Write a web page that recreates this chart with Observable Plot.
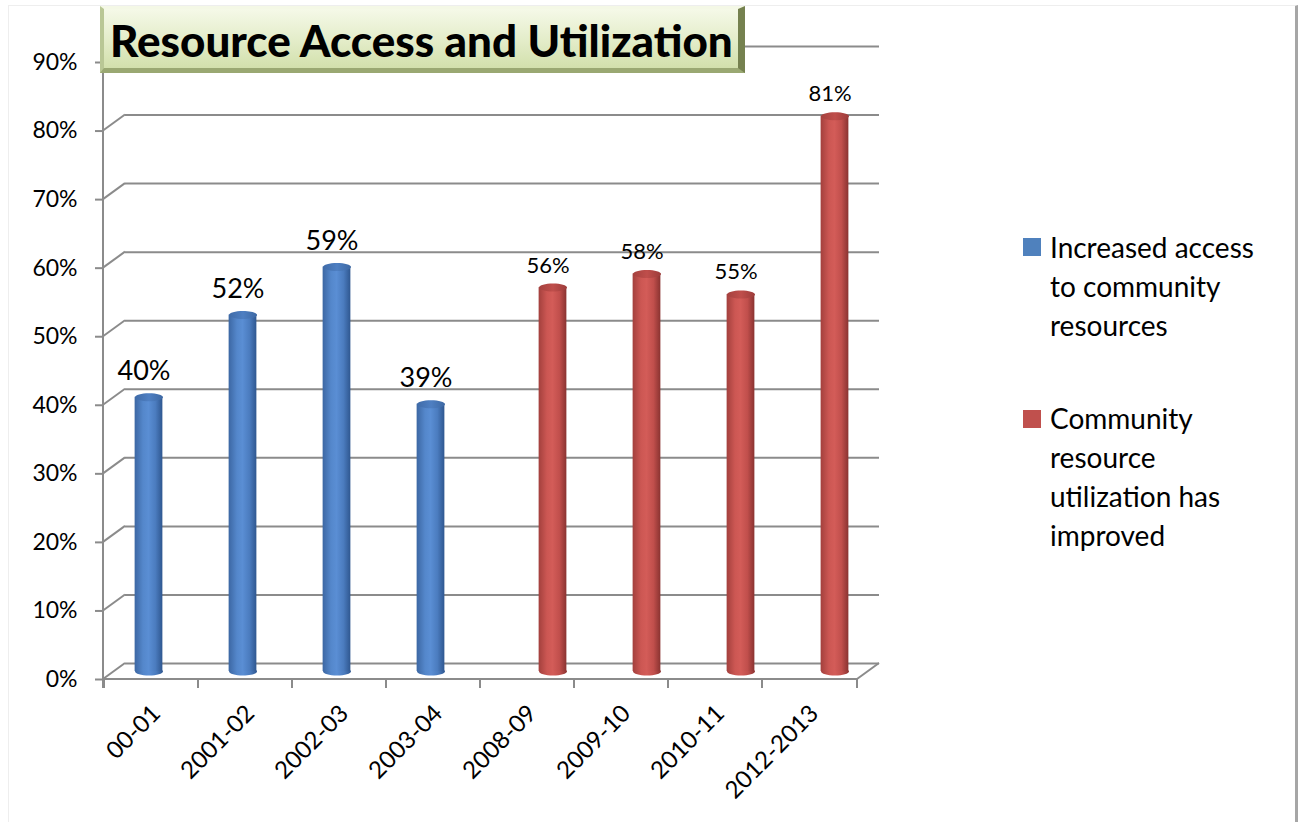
<!DOCTYPE html>
<html><head><meta charset="utf-8">
<script src="https://cdn.jsdelivr.net/npm/d3@7"></script>
<script src="https://cdn.jsdelivr.net/npm/@observablehq/plot@0.6"></script>
<style>
body{margin:0;background:#fff;}
#wrap{position:relative;width:1302px;height:822px;overflow:hidden;font-family:Lato,"Noto Sans",sans-serif;background:#fff;}
#border{position:absolute;left:8px;top:5px;width:1290px;height:840px;border-left:1px solid #eeeeee;border-top:1px solid #eeeeee;border-right:3px solid #a6a6a6;box-sizing:border-box;}
#chart{position:absolute;left:0;top:0;}
#title{position:absolute;left:100px;top:6px;width:645px;height:67px;box-sizing:border-box;
  background:linear-gradient(#f5f9e8,#e3ecc8 55%,#d2e0ac);
  border-top:3px solid #f4f8e6;border-left:4px solid #b9c795;border-right:7px solid #75814f;border-bottom:5px solid #9aa872;
  font-weight:900;font-size:40px;color:#000;white-space:nowrap;line-height:1;}
#title span{position:absolute;left:6px;top:10px;}
.leg{position:absolute;left:1050px;font-size:28px;line-height:39px;color:#000;white-space:nowrap;}
.sw{position:absolute;width:18px;height:18px;left:1023px;}
</style></head><body>
<div id="wrap"><div id="border"></div><div id="chart"></div>
<div id="title"><span id="titleText"></span></div>
<div class="sw" style="top:238px;background:#4f81bd"></div>
<div class="leg" id="leg1" style="top:228px"></div>
<div class="sw" style="top:410px;background:#c0504d"></div>
<div class="leg" id="leg2" style="top:399px"></div>
</div>
<script>
// ---- data ----
const categories = ["00-01","2001-02","2002-03","2003-04","2008-09","2009-10","2010-11","2012-2013"];
const accessValues = [40, 52, 59, 39, null, null, null, null];
const utilizationValues = [null, null, null, null, 56, 58, 55, 81];
const seriesNames = ["Increased access to community resources", "Community resource utilization has improved"];
const legendLines1 = ["Increased access", "to community", "resources"];
const legendLines2 = ["Community", "resource", "utilization has", "improved"];
const yTicks = [0, 10, 20, 30, 40, 50, 60, 70, 80, 90];
const titleText = "Resource Access and Utilization";

// ---- layout constants ----
const W = 1302, H = 822;
const mL = 103, mR = 445, mT = 62, mB = 143;
const depthX = 22, depthY = -16;          // back wall offset
const bandW = (W - mL - mR) / categories.length;
const barW = 28;
const inset = (bandW - barW) / 2;
const midX = depthX / 2, midY = depthY / 2;
const blueDx = midX - 13.5, redDx = midX + 14.5;
const grid = "#8b8b8b";

const access = categories.map((c, i) => ({cat: c, v: accessValues[i]})).filter(d => d.v != null);
const util = categories.map((c, i) => ({cat: c, v: utilizationValues[i]})).filter(d => d.v != null);

function ellipseSymbol(rx, ry) {
  const k = 0.5523;
  return {draw(ctx) {
    ctx.moveTo(-rx, 0);
    ctx.bezierCurveTo(-rx, -ry*k, -rx*k, -ry, 0, -ry);
    ctx.bezierCurveTo(rx*k, -ry, rx, -ry*k, rx, 0);
    ctx.bezierCurveTo(rx, ry*k, rx*k, ry, 0, ry);
    ctx.bezierCurveTo(-rx*k, ry, -rx, ry*k, -rx, 0);
    ctx.closePath();
  }};
}
const ell = ellipseSymbol(barW/2, 4);

function defsMark() {
  const g = d3.create("svg:defs");
  function grad(id, stops) {
    const lg = g.append("linearGradient").attr("id", id).attr("x1", 0).attr("x2", 1).attr("y1", 0).attr("y2", 0);
    stops.forEach(([o, c]) => lg.append("stop").attr("offset", o).attr("stop-color", c));
  }
  grad("bBody", [[0, "#3c67a3"], [0.3, "#5487cb"], [0.5, "#5a8ed4"], [0.75, "#4b7cbf"], [1, "#2f5790"]]);
  grad("rBody", [[0, "#a3403d"], [0.3, "#cc5753"], [0.5, "#d35c58"], [0.75, "#c14f4c"], [1, "#8a3331"]]);
  grad("bTop", [[0, "#3f6ba8"], [0.5, "#4e7fc2"], [1, "#3d68a3"]]);
  grad("rTop", [[0, "#a5413e"], [0.5, "#bf4e4b"], [1, "#9c3c3a"]]);
  return g.node();
}

function frameMark(index, scales, values, dim) {
  const y = scales.y, x = scales.x;
  const g = d3.create("svg:g").attr("stroke", grid).attr("stroke-width", 2).attr("fill", "none");
  const x0 = dim.marginLeft, x1 = dim.width - dim.marginRight, y0 = y(0);
  yTicks.forEach(t => g.append("line").attr("x1", x0).attr("y1", y(t)).attr("x2", x0 + depthX).attr("y2", y(t) + depthY));
  g.append("line").attr("x1", x0).attr("x2", x0).attr("y1", y(90)).attr("y2", y0 + 9);
  g.append("line").attr("x1", x0).attr("x2", x1).attr("y1", y0).attr("y2", y0);
  g.append("line").attr("x1", x1).attr("y1", y0).attr("x2", x1 + depthX).attr("y2", y0 + depthY);
  categories.forEach(c => g.append("line").attr("x1", x(c)).attr("x2", x(c)).attr("y1", y0).attr("y2", y0 + 9));
  g.append("line").attr("x1", x1).attr("x2", x1).attr("y1", y0).attr("y2", y0 + 9);
  return g.node();
}

const plot = Plot.plot({
  width: W, height: H,
  marginLeft: mL, marginRight: mR, marginTop: mT, marginBottom: mB,
  x: {type: "band", domain: categories, padding: 0, axis: null},
  y: {domain: [0, 90], axis: null},
  style: {fontFamily: "Lato, 'Noto Sans', sans-serif", background: "transparent", overflow: "visible"},
  marks: [
    defsMark,
    Plot.ruleY(yTicks, {dx: depthX, dy: depthY, stroke: grid, strokeWidth: 2}),
    frameMark,
    Plot.axisY(yTicks, {tickSize: 8, tickPadding: 18, stroke: grid, strokeWidth: 2, fill: "#000", fontSize: 23, tickFormat: d => d + "%", label: null}),
    Plot.text(categories, {x: d => d, frameAnchor: "bottom", rotate: -45, textAnchor: "end", lineAnchor: "middle", dx: 5, dy: 30, fontSize: 24, fill: "#000"}),
    Plot.dot(access, {x: "cat", y: 0, symbol: ell, fill: "url(#bBody)", stroke: "none", dx: blueDx, dy: midY}),
    Plot.barY(access, {x: "cat", y: "v", fill: "url(#bBody)", insetLeft: inset, insetRight: inset, dx: blueDx, dy: midY}),
    Plot.dot(access, {x: "cat", y: "v", symbol: ell, fill: "url(#bTop)", stroke: "none", dx: blueDx, dy: midY}),
    Plot.dot(util, {x: "cat", y: 0, symbol: ell, fill: "url(#rBody)", stroke: "none", dx: redDx, dy: midY}),
    Plot.barY(util, {x: "cat", y: "v", fill: "url(#rBody)", insetLeft: inset, insetRight: inset, dx: redDx, dy: midY}),
    Plot.dot(util, {x: "cat", y: "v", symbol: ell, fill: "url(#rTop)", stroke: "none", dx: redDx, dy: midY}),
    Plot.text(access, {x: "cat", y: "v", text: d => d.v + "%", dx: blueDx - 5, dy: midY - 26, fontSize: 27, fill: "#000"}),
    Plot.text(util, {x: "cat", y: "v", text: d => d.v + "%", dx: redDx - 5, dy: midY - 22, fontSize: 22, fill: "#000"})
  ]
});
document.getElementById("chart").appendChild(plot);

const tt = document.getElementById("titleText");
tt.textContent = titleText;
const tw = tt.getBoundingClientRect().width;
tt.style.fontSize = (40 * 623 / tw) + "px";
document.getElementById("leg1").innerHTML = legendLines1.join("<br>");
document.getElementById("leg2").innerHTML = legendLines2.join("<br>");
</script>
</body></html>
